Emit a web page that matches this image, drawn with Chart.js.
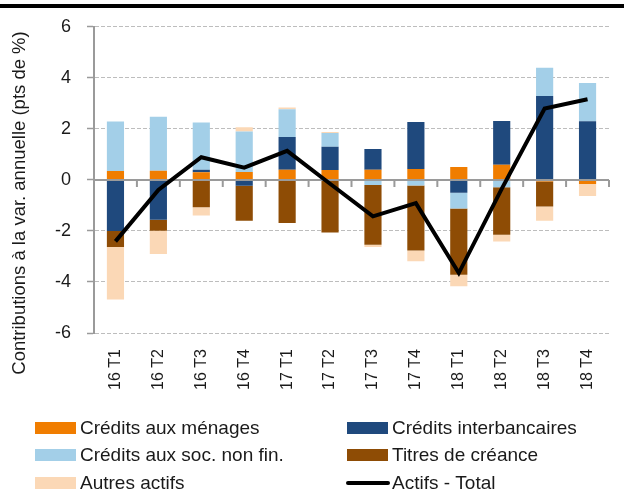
<!DOCTYPE html>
<html><head><meta charset="utf-8">
<script src="https://cdn.jsdelivr.net/npm/chart.js@4"></script>
<style>html,body{margin:0;padding:0;background:#fff}#wrap{width:624px;height:499px;position:relative}</style>
</head><body><div id="wrap"><canvas id="c" width="624" height="499"></canvas></div>
<script>
const categories = ['16 T1','16 T2','16 T3','16 T4','17 T1','17 T2','17 T3','17 T4','18 T1','18 T2','18 T3','18 T4'];
const creditsMenages = [0.35, 0.36, 0.30, 0.31, 0.40, 0.39, 0.40, 0.43, 0.51, 0.59, -0.06, -0.16];
const creditsInterbancaires = [-2.00, -1.56, 0.10, -0.23, 1.28, 0.91, 0.81, 1.84, -0.50, 1.72, 3.29, 2.30];
const creditsSocNonFin = [1.94, 2.11, 1.85, 1.59, 1.09, 0.54, -0.20, -0.22, -0.62, -0.29, 1.11, 1.50];
const titresCreance = [-0.63, -0.43, -1.07, -1.37, -1.69, -2.06, -2.34, -2.55, -2.60, -1.86, -0.98, 0];
const autresActifs = [-2.06, -0.91, -0.33, 0.16, 0.07, 0.04, -0.09, -0.42, -0.45, -0.26, -0.56, -0.47];
const actifsTotal = [-2.41, -0.39, 0.89, 0.48, 1.14, -0.15, -1.43, -0.91, -3.65, -0.35, 2.80, 3.16];
const yTicks = [-6, -4, -2, 0, 2, 4, 6];
const yTitle = 'Contributions à la var. annuelle (pts de %)';

const FONT = "'Liberation Sans', Arial, sans-serif";
const NARROW = "'Liberation Sans Narrow', 'Liberation Sans', Arial, sans-serif";
const TXT = '#1a1a1a';
const AXIS = '#9a9a9a';

const decor = {
  id: 'decor',
  beforeDraw(chart) {
    const ctx = chart.ctx;
    ctx.save();
    ctx.fillStyle = '#fff';
    ctx.fillRect(0, 0, chart.width, chart.height);
    ctx.fillStyle = '#000';
    ctx.fillRect(0, 4, chart.width, 4);
    ctx.restore();
  },
  beforeDatasetDraw(chart, args) {
    if (args.meta.type !== 'line') return;
    const ctx = chart.ctx, x = chart.scales.x, y = chart.scales.y;
    const y0 = y.getPixelForValue(0);
    const left = chart.chartArea.left, right = chart.chartArea.right;
    ctx.save();
    ctx.strokeStyle = AXIS;
    ctx.lineWidth = 2;
    ctx.beginPath();
    ctx.moveTo(left, y0); ctx.lineTo(right, y0);
    const n = categories.length;
    for (let i = 1; i <= n; i++) {
      const px = i < n ? (x.getPixelForValue(i - 1) + x.getPixelForValue(i)) / 2 : right;
      ctx.moveTo(px, y0); ctx.lineTo(px, y0 + 7);
    }
    ctx.stroke();
    ctx.restore();
  },
  afterDraw(chart) {
    const ctx = chart.ctx;
    const ds = chart.data.datasets;
    const byLabel = l => ds.find(d => d.label === l);
    // y axis title
    ctx.save();
    ctx.translate(20, 203);
    ctx.rotate(-Math.PI / 2);
    ctx.font = "18.5px " + FONT;
    ctx.fillStyle = TXT;
    ctx.textAlign = 'center';
    ctx.textBaseline = 'middle';
    ctx.fillText(yTitle, 0, 0);
    ctx.restore();
    // legend
    const cols = [
      { sx: 35, tx: 80, items: ['Crédits aux ménages', 'Crédits aux soc. non fin.', 'Autres actifs'] },
      { sx: 347, tx: 392, items: ['Crédits interbancaires', 'Titres de créance', 'Actifs - Total'] }
    ];
    const rows = [428, 455, 483];
    ctx.save();
    ctx.font = "19px " + FONT;
    ctx.textBaseline = 'middle';
    cols.forEach(c => {
      c.items.forEach((lab, r) => {
        const d = byLabel(lab);
        const cy = rows[r];
        if (d.type === 'line') {
          ctx.strokeStyle = d.borderColor;
          ctx.lineWidth = 4;
          ctx.lineCap = 'round';
          ctx.beginPath();
          ctx.moveTo(c.sx + 1, cy); ctx.lineTo(c.sx + 41, cy);
          ctx.stroke();
        } else {
          ctx.fillStyle = d.backgroundColor;
          ctx.fillRect(c.sx, cy - 6, 41, 12);
        }
        ctx.fillStyle = TXT;
        ctx.fillText(lab, c.tx, cy + 1);
      });
    });
    ctx.restore();
  }
};

const barDs = (label, data, color) => ({ type: 'bar', label, data, backgroundColor: color, borderWidth: 0, stack: 'a', order: 2, barPercentage: 0.4, categoryPercentage: 1 });

new Chart(document.getElementById('c'), {
  data: {
    labels: categories,
    datasets: [
      barDs('Crédits aux ménages', creditsMenages, '#F07D00'),
      barDs('Crédits interbancaires', creditsInterbancaires, '#1F497D'),
      barDs('Crédits aux soc. non fin.', creditsSocNonFin, '#A3CFE8'),
      barDs('Titres de créance', titresCreance, '#8E4C05'),
      barDs('Autres actifs', autresActifs, '#FBD8B6'),
      { type: 'line', label: 'Actifs - Total', data: actifsTotal, borderColor: '#000', backgroundColor: '#000', borderWidth: 4, pointRadius: 0, tension: 0, stack: 'total', order: 1, borderJoinStyle: 'miter' }
    ]
  },
  options: {
    responsive: false,
    animation: false,
    devicePixelRatio: 1,
    layout: { padding: { top: 26, bottom: 100, right: 15, left: 0 } },
    plugins: { legend: { display: false }, tooltip: { enabled: false } },
    scales: {
      x: {
        stacked: true,
        grid: { display: false },
        border: { display: false },
        ticks: { minRotation: 90, maxRotation: 90, padding: 8, autoSkip: false, color: TXT, font: { family: NARROW, size: 16 } },
        afterFit(s) { s.height = 66; }
      },
      y: {
        stacked: true,
        min: -6, max: 6,
        afterBuildTicks(s) { s.ticks = yTicks.map(v => ({ value: v })); },
        ticks: { padding: 16, color: TXT, font: { family: FONT, size: 18 } },
        grid: { color: c => (c.tick && c.tick.value === 0) ? 'rgba(0,0,0,0)' : '#bdbdbd', lineWidth: 1, tickLength: 7, tickColor: AXIS, tickWidth: 1.5 },
        border: { display: true, color: AXIS, width: 2, dash: [4, 2] },
        title: { display: false },
        afterFit(s) { s.width = 94; }
      }
    }
  },
  plugins: [decor]
});
</script>
</body></html>
